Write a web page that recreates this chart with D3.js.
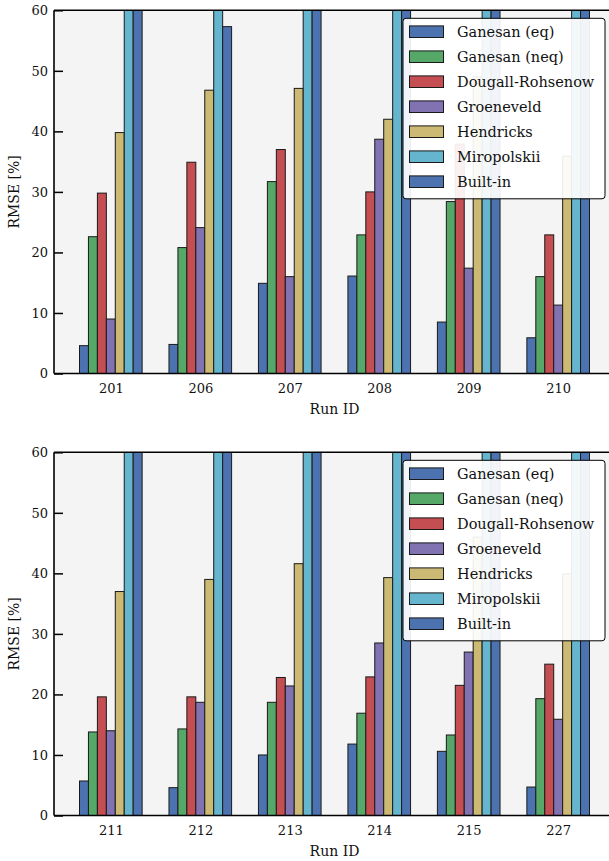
<!DOCTYPE html>
<html>
<head>
<meta charset="utf-8">
<script src="https://cdn.jsdelivr.net/npm/d3@7"></script>
<style>
  html, body { margin: 0; padding: 0; background: #ffffff; }
  svg { display: block; }
  text { font-family: "DejaVu Serif", serif; fill: #111; }
</style>
</head>
<body>
<script>
// ---------- data ----------
const seriesNames = ["Ganesan (eq)", "Ganesan (neq)", "Dougall-Rohsenow", "Groeneveld", "Hendricks", "Miropolskii", "Built-in"];
const seriesColors = ["#4C72B0", "#55A868", "#C44E52", "#8172B2", "#CCB974", "#64B5CD", "#4C72B0"];
const yTicks = [0, 10, 20, 30, 40, 50, 60];

const runsTop = ["201", "206", "207", "208", "209", "210"];
const ganesanEqTop   = [4.6, 4.8, 14.9, 16.1, 8.5, 5.9];
const ganesanNeqTop  = [22.6, 20.8, 31.7, 22.9, 28.4, 16.0];
const dougallTop     = [29.8, 34.9, 37.0, 30.0, 37.9, 22.9];
const groeneveldTop  = [9.0, 24.1, 16.0, 38.7, 17.4, 11.3];
const hendricksTop   = [39.8, 46.8, 47.1, 42.0, 49.0, 35.9];
const miropolskiiTop = [85, 75, 90, 80, 95, 85];
const builtinTop     = [70, 57.3, 65, 72, 68, 66];

const runsBottom = ["211", "212", "213", "214", "215", "227"];
const ganesanEqBottom   = [5.7, 4.6, 10.0, 11.8, 10.6, 4.7];
const ganesanNeqBottom  = [13.8, 14.3, 18.7, 16.9, 13.3, 19.3];
const dougallBottom     = [19.6, 19.6, 22.8, 22.9, 21.5, 25.0];
const groeneveldBottom  = [14.0, 18.7, 21.4, 28.5, 27.0, 15.9];
const hendricksBottom   = [37.0, 39.0, 41.6, 39.3, 46.0, 39.9];
const miropolskiiBottom = [80, 85, 90, 78, 88, 82];
const builtinBottom     = [75, 70, 72, 76, 74, 71];

const panels = [
  { runs: runsTop, series: [ganesanEqTop, ganesanNeqTop, dougallTop, groeneveldTop, hendricksTop, miropolskiiTop, builtinTop], top: 10.3 },
  { runs: runsBottom, series: [ganesanEqBottom, ganesanNeqBottom, dougallBottom, groeneveldBottom, hendricksBottom, miropolskiiBottom, builtinBottom], top: 452.3 }
];

// ---------- layout ----------
const W = 609, H = 861;
const left = 54, right = 615, plotH = 363.2;
const barW = 0.1;

const svg = d3.select("body").append("svg").attr("width", W).attr("height", H);

panels.forEach((p, pi) => {
  const g = svg.append("g").attr("transform", `translate(0,${p.top})`);
  const n = p.runs.length;
  const x = d3.scaleLinear().domain([-0.635, n - 1 + 0.635]).range([left, right]);
  const y = d3.scaleLinear().domain([0, 60]).range([plotH, 0]);

  const clipId = "clip" + pi;
  g.append("clipPath").attr("id", clipId)
    .append("rect").attr("x", left).attr("y", 0).attr("width", right - left).attr("height", plotH);

  g.append("rect").attr("x", left).attr("y", 0).attr("width", right - left).attr("height", plotH)
    .attr("fill", "#f4f4f4");

  const bars = g.append("g").attr("clip-path", `url(#${clipId})`);
  p.series.forEach((vals, k) => {
    bars.selectAll(null).data(vals).enter().append("rect")
      .attr("x", (d, i) => x(i + (k - 3.5) * barW))
      .attr("width", x(barW) - x(0))
      .attr("y", d => y(d))
      .attr("height", d => y(0) - y(d))
      .attr("fill", seriesColors[k])
      .attr("stroke", "#1a1a1a")
      .attr("stroke-width", 1);
  });

  // axes
  const yAxis = d3.axisLeft(y).tickValues(yTicks).tickSizeInner(-9).tickSizeOuter(0).tickPadding(6);
  const ya = g.append("g").attr("transform", `translate(${left},0)`).call(yAxis);
  ya.select(".domain").remove();
  ya.selectAll(".tick line").attr("stroke", "#000").attr("stroke-width", 1.5);
  ya.selectAll(".tick text").attr("font-size", 13).attr("font-family", "DejaVu Serif").attr("fill", "#111");

  const xAxis = d3.axisBottom(x).tickValues(d3.range(n)).tickFormat(i => p.runs[i]).tickSize(0).tickPadding(10);
  const xa = g.append("g").attr("transform", `translate(0,${plotH})`).call(xAxis);
  xa.select(".domain").remove();
  xa.selectAll(".tick text").attr("font-size", 13).attr("font-family", "DejaVu Serif").attr("fill", "#111");

  // spines
  g.append("line").attr("x1", left).attr("x2", right).attr("y1", 0).attr("y2", 0).attr("stroke", "#000").attr("stroke-width", 1.6);
  g.append("line").attr("x1", left).attr("x2", right).attr("y1", plotH).attr("y2", plotH).attr("stroke", "#000").attr("stroke-width", 1.6);
  g.append("line").attr("x1", left).attr("x2", left).attr("y1", 0).attr("y2", plotH).attr("stroke", "#000").attr("stroke-width", 1.6);

  // axis labels
  g.append("text").attr("x", (left + right) / 2).attr("y", plotH + 41)
    .attr("text-anchor", "middle").attr("font-size", 14).text("Run ID");
  g.append("text").attr("transform", `translate(19,${plotH / 2}) rotate(-90)`)
    .attr("text-anchor", "middle").attr("font-size", 14).text("RMSE [%]");

  // legend
  const lg = g.append("g").attr("transform", `translate(403,8)`);
  lg.append("rect").attr("x", 0).attr("y", 0).attr("width", 202).attr("height", 180.5)
    .attr("rx", 3).attr("ry", 3)
    .attr("fill", "#ffffff").attr("fill-opacity", 0.92)
    .attr("stroke", "#000").attr("stroke-width", 1);
  seriesNames.forEach((name, k) => {
    const cy = 13.4 + k * 25;
    lg.append("rect").attr("x", 6.5).attr("y", cy - 5.8).attr("width", 34).attr("height", 11.6)
      .attr("fill", seriesColors[k]).attr("stroke", "#1a1a1a").attr("stroke-width", 1);
    lg.append("text").attr("x", 54).attr("y", cy).attr("dy", "0.36em")
      .attr("font-size", 14.5).text(name);
  });
});
</script>
</body>
</html>
